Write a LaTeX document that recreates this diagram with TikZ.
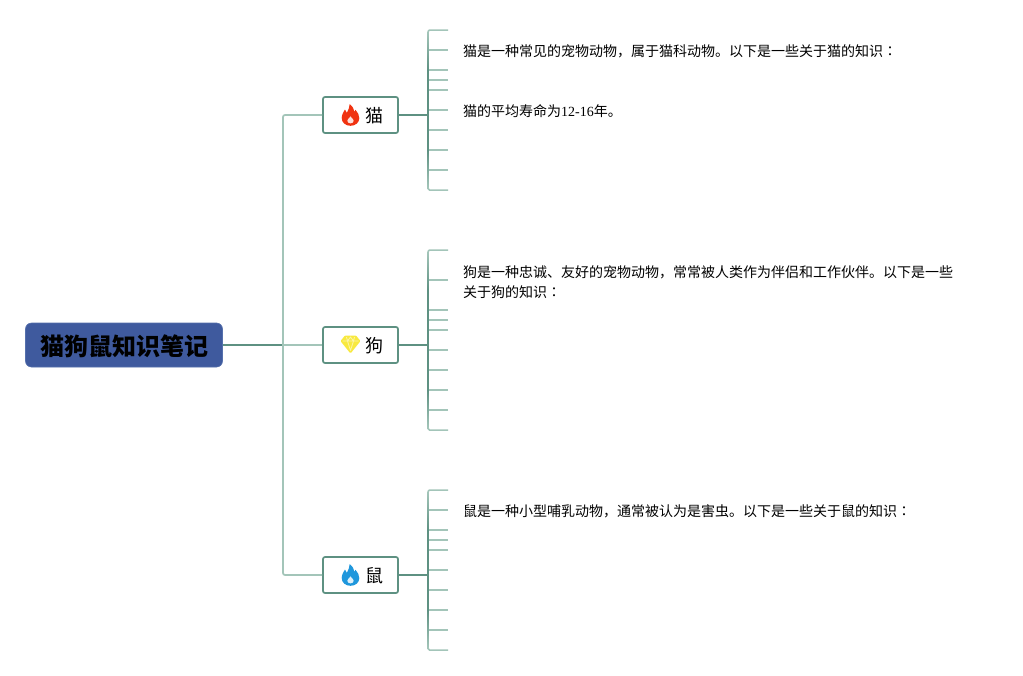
\documentclass[tikz,border=0pt]{standalone}
\usepackage{fontspec}
\setmainfont{Noto Sans CJK SC}
\newfontfamily\latinfont{Liberation Serif}
\newfontfamily\tcfont{Noto Sans CJK TC}
\usetikzlibrary{calc}
\definecolor{rootblue}{HTML}{3F5A9E}
\definecolor{rootedge}{HTML}{5570AC}
\definecolor{linedark}{HTML}{5E9182}
\definecolor{linelight}{HTML}{A3C5B9}
\definecolor{firered}{HTML}{F03311}
\definecolor{fireblue}{HTML}{1F97DC}
\definecolor{gemyellow}{HTML}{F8E93F}
\tikzset{
  x=1pt,y=-1pt,
  rootbox/.style={draw=rootedge,line width=.6pt,fill=rootblue,rounded corners=6pt,minimum width=197pt,minimum height=44pt,inner sep=0pt,font=\fontsize{24}{24}\selectfont\bfseries,text=black},
  branchbox/.style={draw=linedark,line width=1.7pt,fill=white,rounded corners=2pt,minimum width=75pt,minimum height=36pt,inner sep=0pt},
  branchtext/.style={inner sep=0pt,font=\fontsize{18}{18}\selectfont,text=black},
  notetext/.style={inner sep=0pt,anchor=west,font=\fontsize{14}{20}\selectfont,text=black,align=left},
  strong/.style={draw=linedark,line width=1.7pt},
  soft/.style={draw=linelight,line width=1.7pt},
  softtip/.style={draw=linelight,line width=1.5pt}
}
\newcommand{\flameicon}[2]{%
  \begin{scope}[shift={(#1)}]
    \fill[#2] (0,10.8) .. controls (-5,10.8) and (-8.8,7.5) .. (-8.8,3)
      .. controls (-8.8,-1) and (-6.5,-3) .. (-5.6,-5.5)
      .. controls (-4.6,-4.5) and (-4,-3.5) .. (-3.6,-2.2)
      .. controls (-2,-5) and (-1,-8) .. (-0.8,-10.8)
      .. controls (2.5,-8.5) and (3.6,-5.5) .. (3.8,-3.2)
      .. controls (4.4,-3.8) and (4.8,-4.4) .. (5,-5.2)
      .. controls (7.4,-2.6) and (8.8,0.2) .. (8.8,3.2)
      .. controls (8.8,7.5) and (5,10.8) .. (0,10.8) -- cycle;
    \fill[white!85!#2] (0,8.4) .. controls (-2,8.4) and (-3.2,7) .. (-3.2,5.6)
      .. controls (-3.2,4.2) and (-1,3.2) .. (0,1.4)
      .. controls (1,3.2) and (3.2,4.2) .. (3.2,5.6)
      .. controls (3.2,7) and (2,8.4) .. (0,8.4) -- cycle;
  \end{scope}}
\newcommand{\spinerails}[2]{%
  \pgfmathsetmacro{\spa}{#1+38}\pgfmathsetmacro{\spb}{#2-38}%
  \shade[top color=linelight,bottom color=linedark] (427.1,#1) rectangle (428.9,\spa);
  \fill[linedark] (427.1,\spa) rectangle (428.9,\spb);
  \shade[top color=linedark,bottom color=linelight] (427.1,\spb) rectangle (428.9,#2);
}
\begin{document}
\begin{tikzpicture}
\useasboundingbox (0,0) rectangle (1023,675);
\fill[white] (0,0) rectangle (1023,675);

\coordinate (hub) at (283,345);
\coordinate (hubtop) at (283,115);
\coordinate (hubbot) at (283,575);

\node[rootbox] (root) at (124,345) {};
\node[branchbox] (cat) at (360.5,115) {};
\node[branchbox] (dog) at (360.5,345) {};
\node[branchbox] (mouse) at (360.5,575) {};

\draw[strong] (root.east) -- (hub);
\draw[soft,rounded corners=2pt] (cat.west) -- (hubtop) -- (hubbot) -- (mouse.west);
\draw[soft] (hub) -- (dog.west);

\coordinate (catS) at (428,115);
\coordinate (dogS) at (428,345);
\coordinate (mouseS) at (428,575);
\spinerails{32}{188}
\spinerails{252}{428}
\spinerails{492}{648}
\draw[strong] (cat.east) -- (catS);
\draw[strong] (dog.east) -- (dogS);
\draw[strong] (mouse.east) -- (mouseS);

\coordinate (c1) at (448,30); \coordinate (c10) at (448,190);
\draw[softtip,rounded corners=1.5pt] (c1) -- (428,30) -- (428,33);
\draw[softtip,rounded corners=1.5pt] (c10) -- (428,190) -- (428,187);
\foreach \y in {50,70,80,90,110,130,150,170}{\draw[softtip] (428.9,\y) -- (448,\y);}
\coordinate (d1) at (448,250); \coordinate (d10) at (448,430);
\draw[softtip,rounded corners=1.5pt] (d1) -- (428,250) -- (428,253);
\draw[softtip,rounded corners=1.5pt] (d10) -- (428,430) -- (428,427);
\foreach \y in {280,310,320,330,350,370,390,410}{\draw[softtip] (428.9,\y) -- (448,\y);}
\coordinate (m1) at (448,490); \coordinate (m10) at (448,650);
\draw[softtip,rounded corners=1.5pt] (m1) -- (428,490) -- (428,493);
\draw[softtip,rounded corners=1.5pt] (m10) -- (428,650) -- (428,647);
\foreach \y in {510,530,540,550,570,590,610,630}{\draw[softtip] (428.9,\y) -- (448,\y);}

\node[font=\fontsize{24}{24}\selectfont\bfseries,inner sep=0pt] (rootT) at (124.5,346) {猫狗鼠知识笔记};

\node[branchtext] (catL) at (374,116) {猫};
\node[branchtext] (dogL) at (374,346) {狗};
\node[branchtext] (mouseL) at (374,576) {鼠};

\flameicon{350.5,115}{firered}
\flameicon{350.5,575}{fireblue}
\begin{scope}[shift={(350.5,344.5)}]
  \fill[gemyellow,rounded corners=1pt] (-5.5,-9) -- (5.5,-9) -- (10,-3.5) -- (0,9) -- (-10,-3.5) -- cycle;
  \draw[white!55!gemyellow,line width=.8pt,line join=round]
    (-8,-3.5) -- (8,-3.5) (-4,-7.5) -- (-3,-3.5) -- (0,-7.5) -- (3,-3.5) -- (4,-7.5)
    (-3,-3.5) -- (0,6) -- (3,-3.5);
\end{scope}

\node[notetext] (n1) at (463,51) {猫是一种常见的宠物动物，属于猫科动物。以下是一些关于猫的知识{\tcfont ：}};
\node[notetext] (n2) at (463,111) {猫的平均寿命为{\latinfont 12-16}年。};
\node[notetext,anchor=north west] (n3) at (463,265) {狗是一种忠诚、友好的宠物动物，常常被人类作为伴侣和工作伙伴。以下是一些\\关于狗的知识{\tcfont ：}};
\node[notetext] (n4) at (463,511) {鼠是一种小型哺乳动物，通常被认为是害虫。以下是一些关于鼠的知识{\tcfont ：}};
\end{tikzpicture}
\end{document}
